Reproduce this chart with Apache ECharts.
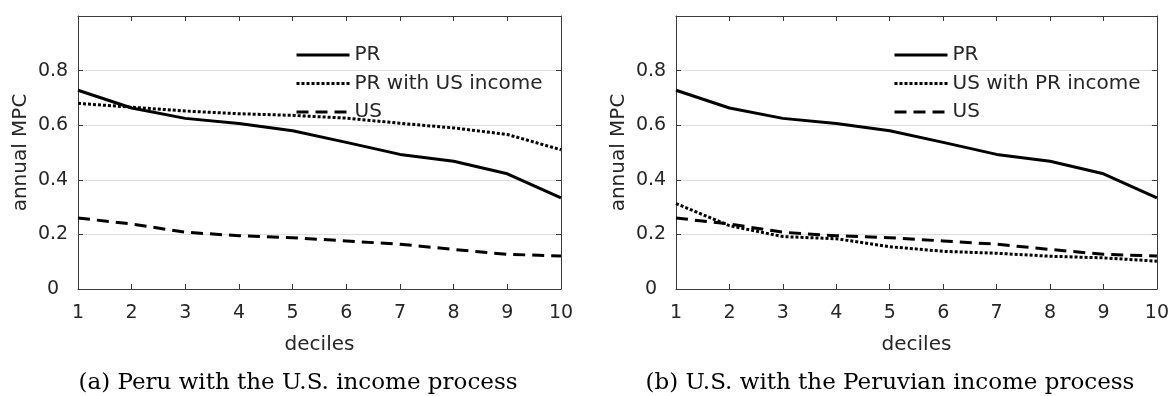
<!DOCTYPE html>
<html>
<head>
<meta charset="utf-8">
<script src="https://cdn.jsdelivr.net/npm/echarts@6/dist/echarts.min.js"></script>
<style>
html,body{margin:0;padding:0;background:#fff;}
#c{width:1172px;height:396px;}
</style>
</head>
<body>
<div id="c"></div>
<script>
const deciles = [1, 2, 3, 4, 5, 6, 7, 8, 9, 10];
const prMPC = [0.728, 0.663, 0.625, 0.606, 0.580, 0.537, 0.493, 0.468, 0.422, 0.334];
const prWithUSIncome = [0.680, 0.666, 0.652, 0.642, 0.636, 0.626, 0.607, 0.590, 0.566, 0.510];
const usMPC = [0.260, 0.238, 0.208, 0.195, 0.188, 0.176, 0.164, 0.145, 0.127, 0.121];
const usWithPRIncome = [0.313, 0.232, 0.192, 0.184, 0.155, 0.138, 0.131, 0.120, 0.114, 0.102];

const xTitle = 'deciles';
const yTitle = 'annual MPC';
const captionA = '(a) Peru with the U.S. income process';
const captionB = '(b) U.S. with the Peruvian income process';
const legendA = ['PR', 'PR with US income', 'US'];
const legendB = ['PR', 'US with PR income', 'US'];

const pairs = (vals) => deciles.map((d, i) => [d, vals[i]]);

const SANS = 'DejaVu Sans';
const TXT = '#262626';
const AX = '#3a3a3a';

function xAxes(gi) {
  return [
    {
      gridIndex: gi, type: 'value', min: 1, max: 10, interval: 1, position: 'bottom',
      name: xTitle, nameLocation: 'middle', nameGap: 46,
      nameTextStyle: { fontFamily: SANS, fontSize: 20, color: TXT },
      axisLine: { show: true, onZero: false, lineStyle: { color: AX, width: 1 } },
      axisTick: { show: true, inside: true, length: 5, lineStyle: { color: AX } },
      axisLabel: { fontFamily: SANS, fontSize: 19, color: TXT, margin: 15 },
      splitLine: { show: false }
    },
    {
      gridIndex: gi, type: 'value', min: 1, max: 10, interval: 1, position: 'top',
      axisLine: { show: true, onZero: false, lineStyle: { color: AX, width: 1 } },
      axisTick: { show: true, inside: true, length: 5, lineStyle: { color: AX } },
      axisLabel: { show: false },
      splitLine: { show: false }
    }
  ];
}
function yAxes(gi) {
  return [
    {
      gridIndex: gi, type: 'value', min: 0, max: 1, interval: 0.2, position: 'left',
      name: yTitle, nameLocation: 'middle', nameGap: 47, nameRotate: 90,
      nameTextStyle: { fontFamily: SANS, fontSize: 20, color: TXT },
      axisLine: { show: true, onZero: false, lineStyle: { color: AX, width: 1 } },
      axisTick: { show: true, inside: true, length: 5, lineStyle: { color: AX } },
      axisLabel: {
        fontFamily: SANS, fontSize: 19, color: TXT, margin: 25, align: 'center',
        formatter: (v) => (v >= 0.999 ? '' : (v === 0 ? '0' : v.toFixed(1)))
      },
      splitLine: { show: true, lineStyle: { color: '#dedede', width: 1 } }
    },
    {
      gridIndex: gi, type: 'value', min: 0, max: 1, interval: 0.2, position: 'right',
      axisLine: { show: true, onZero: false, lineStyle: { color: AX, width: 1 } },
      axisTick: { show: true, inside: true, length: 5, lineStyle: { color: AX } },
      axisLabel: { show: false },
      splitLine: { show: false }
    }
  ];
}

function lineSeries(name, vals, xi, yi, type) {
  return {
    name: name, type: 'line', xAxisIndex: xi, yAxisIndex: yi,
    data: pairs(vals), showSymbol: false, symbol: 'none', z: 5,
    lineStyle: { color: '#000', width: 3, type: type, cap: 'butt' },
    itemStyle: { color: '#000' }
  };
}

const legendCommon = {
  orient: 'vertical', top: 40, itemWidth: 53, itemHeight: 20, itemGap: 8.5,
  selectedMode: false,
  itemStyle: { opacity: 0, color: 'rgba(0,0,0,0)', borderWidth: 0 },
  lineStyle: { width: 3 },
  textStyle: { fontFamily: SANS, fontSize: 20, color: TXT, lineHeight: 20 }
};

const option = {
  animation: false,
  backgroundColor: '#fff',
  grid: [
    { left: 78, right: 1172 - 561, top: 16, bottom: 396 - 289 },
    { left: 676, right: 1172 - 1159, top: 16, bottom: 396 - 289 }
  ],
  xAxis: [...xAxes(0), ...xAxes(1)],
  yAxis: [...yAxes(0), ...yAxes(1)],
  legend: [
    Object.assign({}, legendCommon, { left: 290, data: legendA }),
    Object.assign({}, legendCommon, { left: 888, data: legendB })
  ],
  series: [
    lineSeries(legendA[0], prMPC, 0, 0, 'solid'),
    lineSeries(legendA[1], prWithUSIncome, 0, 0, [3, 2]),
    lineSeries(legendA[2], usMPC, 0, 0, [12, 7]),
    lineSeries(legendB[0], prMPC, 2, 2, 'solid'),
    lineSeries(legendB[1], usWithPRIncome, 2, 2, [3, 2]),
    lineSeries(legendB[2], usMPC, 2, 2, [12, 7])
  ],
  graphic: [
    { type: 'text', x: 298, y: 383,
      style: { text: captionA, fontFamily: 'DejaVu Serif', fontSize: 23, fill: '#000', align: 'center', verticalAlign: 'middle' } },
    { type: 'text', x: 890, y: 383,
      style: { text: captionB, fontFamily: 'DejaVu Serif', fontSize: 23, fill: '#000', align: 'center', verticalAlign: 'middle' } }
  ]
};

const chart = echarts.init(document.getElementById('c'), null, { renderer: 'canvas' });
chart.setOption(option);
</script>
</body>
</html>
